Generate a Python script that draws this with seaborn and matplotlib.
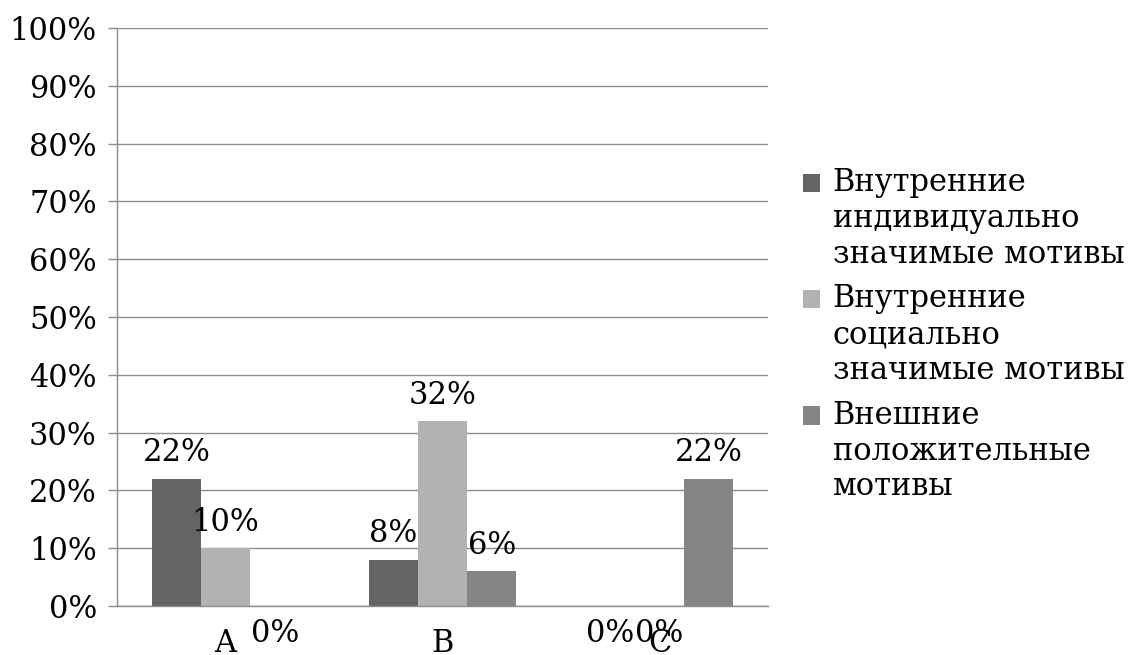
import pandas as pd
import numpy as np
import matplotlib
matplotlib.use("Agg")
import matplotlib.pyplot as plt
import seaborn as sns
from matplotlib.patches import Patch, Rectangle
from matplotlib.legend_handler import HandlerPatch

# -------------------------
# Данные
# -------------------------
categories = ["A", "B", "C"]
series_names = [
    "Внутренние\nиндивидуально\nзначимые мотивы",
    "Внутренние\nсоциально\nзначимые мотивы",
    "Внешние\nположительные\nмотивы",
]
inner_individual = [0.22, 0.08, 0.00]
inner_social = [0.10, 0.32, 0.00]
outer_positive = [0.00, 0.06, 0.22]
colors = ["#646464", "#b2b2b2", "#858585"]
y_ticks = np.arange(0, 1.01, 0.1)

df = pd.DataFrame({
    "cat": categories * 3,
    "series": [s for s in series_names for _ in categories],
    "value": inner_individual + inner_social + outer_positive,
})

sns.set_style("white")
plt.rcParams["font.family"] = ["DejaVu Serif"]
plt.rcParams["text.color"] = "black"
plt.rcParams["xtick.labelcolor"] = "black"
plt.rcParams["ytick.labelcolor"] = "black"
FS = 22
GRID = "#8c8c8c"


class TopHandler(HandlerPatch):
    """Квадратик легенды на уровне первой строки подписи."""
    def create_artists(self, legend, orig_handle, xdescent, ydescent,
                       width, height, fontsize, trans):
        shift = fontsize * 1.2
        p = Rectangle((-xdescent, -ydescent + shift), width, height,
                      facecolor=orig_handle.get_facecolor(), edgecolor="none",
                      transform=trans)
        return [p]


fig = plt.figure(figsize=(11.42, 6.55), dpi=100)
ax = fig.add_axes([117 / 1142, 1 - 606 / 655, (768 - 117) / 1142, (606 - 28) / 655])

sns.barplot(data=df, x="cat", y="value", hue="series", hue_order=series_names,
            palette=colors, width=0.68, errorbar=None, linewidth=0,
            saturation=1, ax=ax, legend=False)

ax.set_xlim(-0.5, 2.5)
ax.set_ylim(0, 1)
ax.set_yticks(y_ticks)
ax.set_yticklabels([f"{int(round(t * 100))}%" for t in y_ticks], fontsize=FS)
ax.yaxis.grid(True, color=GRID, linewidth=1.0)
ax.set_axisbelow(True)

# границы категорий — большие деления, подписи — малые
ax.set_xticks([-0.5, 0.5, 1.5, 2.5])
ax.set_xticklabels([])
ax.set_xticks([0, 1, 2], minor=True)
ax.set_xticklabels(categories, minor=True, fontsize=FS)
ax.tick_params(axis="x", which="major", length=8, color=GRID, width=1.0, direction="out")
ax.tick_params(axis="x", which="minor", length=0, pad=16)
ax.tick_params(axis="y", length=6.5, color=GRID, width=1.0, direction="out", pad=8, left=True)
ax.set_xlabel("")
ax.set_ylabel("")

for side in ["top", "right"]:
    ax.spines[side].set_visible(False)
for side in ["left", "bottom"]:
    ax.spines[side].set_color(GRID)
    ax.spines[side].set_linewidth(1.0)

# подписи значений
for cont in ax.containers:
    for bar in cont:
        h = bar.get_height()
        off = 18.7 if h > 0 else -19.5
        ax.annotate(f"{int(round(h * 100))}%",
                    (bar.get_x() + bar.get_width() / 2, h),
                    xytext=(0, off), textcoords="offset points",
                    ha="center", va="center", fontsize=FS, color="black",
                    annotation_clip=False)

handles = [Patch(facecolor=c, edgecolor="none") for c in colors]
fig.legend(handles, series_names, loc="upper left",
           bbox_to_anchor=(803 / 1142, 1 - 167 / 655),
           frameon=False, fontsize=FS, borderpad=0, borderaxespad=0,
           handlelength=0.55, handleheight=0.55, handletextpad=0.42,
           labelspacing=0.45, handler_map={Patch: TopHandler()})

fig.savefig("out.png", dpi=100)
